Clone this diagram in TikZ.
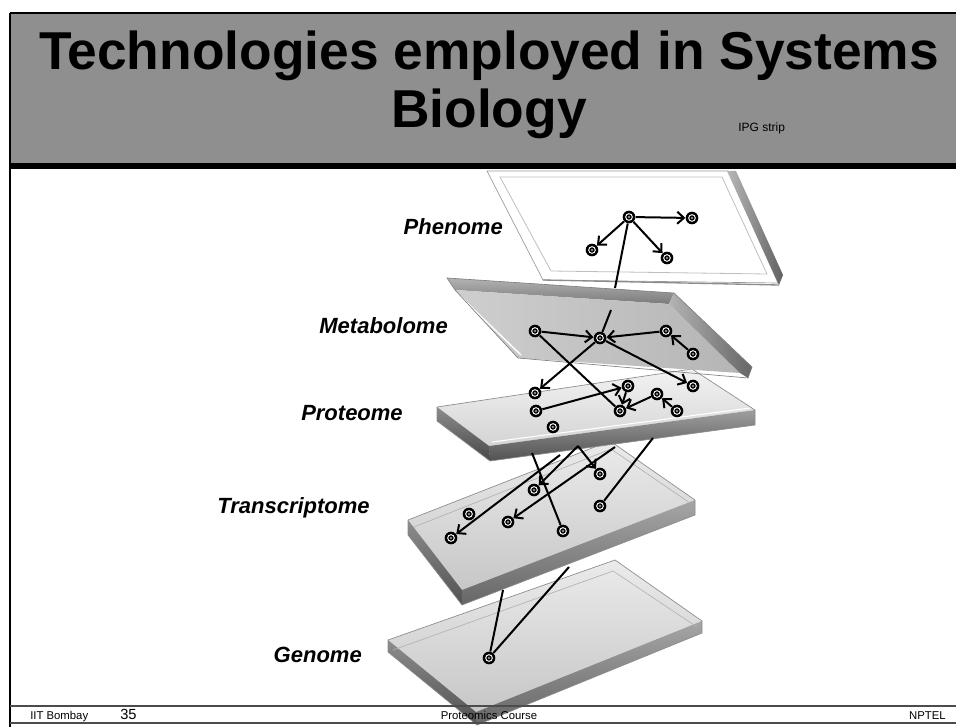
\documentclass[tikz,border=0pt]{standalone}
\usepackage{fontspec}
\setmainfont{Liberation Sans}
\usetikzlibrary{arrows.meta}
\begin{document}
\begin{tikzpicture}[x=0.75pt,y=-0.75pt,
  dot/.style={circle, fill=black, inner sep=0pt, minimum size=9.5pt,
    path picture={\draw[white,line width=0.7pt] (path picture bounding box.center) circle[radius=2.5pt];
                  \fill[black!45] (path picture bounding box.center) circle[radius=1.1pt];}},
  conn/.style={line width=1.5pt, black},
  arr/.style={conn, -{Straight Barb[length=5pt,width=9pt]}},
  lbl/.style={font=\fontsize{16.5}{19}\selectfont\bfseries\itshape, inner sep=0pt},
  titletxt/.style={font=\fontsize{40}{44}\selectfont\bfseries, inner sep=0pt},
  foot/.style={font=\fontsize{8.5}{10}\selectfont, inner sep=0pt},
  edgeline/.style={draw=black!45, line width=0.5pt}
]
\useasboundingbox (0,0) rectangle (956,727);
\fill[white] (0,0) rectangle (956,727);

% ---------- header ----------
\fill[black!44] (10,13) rectangle (956,167);
\draw[line width=1.5pt] (10,13.5) -- (956,13.5);
\fill[black] (10,163) rectangle (956,169);
\draw[line width=2pt] (10,13) -- (10,727);

\node[titletxt, anchor=base] (t1) at (489,70) {Technologies employed in Systems};
\node[titletxt, anchor=base] (t2) at (489,128) {Biology};
\node[font=\fontsize{9}{10}\selectfont, anchor=base west, inner sep=0pt] (ipg) at (738,132) {IPG strip};

% ---------- genome slab ----------
\shade[top color=black!8, bottom color=black!22] (388,640)--(615,560)--(702,621)--(476,712)--cycle;
\shade[top color=black!45, bottom color=black!68] (388,640)--(476,712)--(477,725)--(388,652)--cycle;
\shade[top color=black!35, bottom color=black!60] (476,712)--(702,621)--(702,633)--(477,725)--cycle;
\draw[edgeline] (388,640)--(615,560)--(702,621)--(702,633)--(477,725)--(388,652)--cycle;
\draw[black!30, line width=0.5pt] (393,650)--(613,571)--(697,627);

% ---------- transcriptome slab ----------
\shade[top color=black!8, bottom color=black!22] (408,520)--(610,441)--(695,500)--(462,590)--cycle;
\shade[top color=black!45, bottom color=black!68] (408,520)--(462,590)--(462,605)--(408,535)--cycle;
\shade[top color=black!35, bottom color=black!60] (462,590)--(695,500)--(695,515)--(462,605)--cycle;
\draw[edgeline] (408,520)--(610,441)--(695,500)--(695,515)--(462,605)--(408,535)--cycle;
\draw[black!30, line width=0.5pt] (414,527)--(611,449)--(690,503);

% ---------- proteome slab ----------
\shade[top color=black!5, bottom color=black!17] (437,407)--(692,369)--(755,410)--(489,446)--cycle;
\shade[top color=black!45, bottom color=black!72] (437,407)--(489,446)--(490,461)--(437,421)--cycle;
\shade[top color=black!38, bottom color=black!68] (489,446)--(755,410)--(755,425)--(490,461)--cycle;
\draw[edgeline] (437,407)--(692,369)--(755,410)--(755,425)--(490,461)--(437,421)--cycle;
\draw[white, line width=0.8pt] (492,442)--(750,408);

% ---------- phenome slab ----------
\fill[white] (487,171)--(728,171)--(778,283)--(543,280)--cycle;
\draw[black!40, line width=0.5pt] (487,171)--(728,171)--(778,283)--(543,280)--cycle;
\draw[black!25, line width=0.6pt] (500,177)--(722,177)--(767,274)--(551,271)--cycle;
\shade[left color=black!28, right color=black!62] (727,171)--(736,171)--(783,275)--(779,285)--cycle;
\draw[black!45, line width=1pt] (543,280)--(779,285);

% ---------- metabolome slab ----------
\shade[top color=black!30, bottom color=black!52] (447,278)--(674,293)--(669,304)--(455,290)--cycle;
\shade[left color=black!19, right color=black!29] (455,290)--(669,304)--(740,373)--(518,358)--cycle;
\draw[white, line width=1pt] (458,294)--(521,355);
\shade[left color=black!30, right color=black!60] (674,293)--(752,367)--(748,378)--(740,373)--(669,304)--cycle;
\draw[black!50, line width=0.5pt] (447,278)--(674,293)--(752,367)--(748,378)--(518,358)--(455,290)--cycle;

% ---------- labels ----------
\node[lbl, anchor=base east] (lph) at (503,235) {Phenome};
\node[lbl, anchor=base east] (lme) at (448,333) {Metabolome};
\node[lbl, anchor=base east] (lpr) at (403,420) {Proteome};
\node[lbl, anchor=base east] (ltr) at (370,513) {Transcriptome};
\node[lbl, anchor=base east] (lge) at (362,662) {Genome};

% ---------- dots ----------
\node[dot] (P0) at (629,217) {};
\node[dot] (P1) at (692,218) {};
\node[dot] (P2) at (592,250) {};
\node[dot] (P3) at (667,258) {};
\node[dot] (M0) at (600,338) {};
\node[dot] (M1) at (535,331) {};
\node[dot] (M2) at (666,331) {};
\node[dot] (M3) at (693,354) {};
\node[dot] (R1) at (535,393) {};
\node[dot] (R2) at (536,411) {};
\node[dot] (R3) at (553,427) {};
\node[dot] (R4) at (628,386) {};
\node[dot] (R5) at (620,411) {};
\node[dot] (R6) at (657,394) {};
\node[dot] (R7) at (677,411) {};
\node[dot] (R8) at (693,386) {};
\node[dot] (T1) at (534,490) {};
\node[dot] (T2) at (600,474) {};
\node[dot] (T3) at (600,506) {};
\node[dot] (T4) at (469,514) {};
\node[dot] (T5) at (508,522) {};
\node[dot] (T6) at (563,531) {};
\node[dot] (T7) at (451,538) {};
\node[dot] (G1) at (489,658) {};

\coordinate (pa) at (615,288);
\coordinate (pb) at (611,310);
\coordinate (q1) at (532,453);
\coordinate (q2) at (578,446);
\coordinate (q3) at (560,455);
\coordinate (q4) at (615,447);
\coordinate (q5) at (653,438);
\coordinate (r1) at (503,590);
\coordinate (r2) at (569,567);

% ---------- connectors ----------
\draw[arr] (P0) -- (P1);
\draw[arr] (P0) -- (P2);
\draw[arr] (P0) -- (P3);
\draw[conn] (P0) -- (pa);
\draw[conn] (pb) -- (M0);
\draw[arr] (M1) -- (M0);
\draw[arr] (M2) -- (M0);
\draw[arr] (M3) -- (M2);
\draw[arr] (M0) -- (R1);
\draw[arr] (M0) -- (R8);
\draw[conn] (M1) -- (R5);
\draw[arr] (R2) -- (R4);
\draw[arr] (R4) -- (R5);
\draw[arr] (R6) -- (R5);
\draw[arr] (R7) -- (R6);
\draw[conn] (q1) -- (T6);
\draw[arr] (q2) -- (T1);
\draw[arr] (q2) -- (T2);
\draw[arr] (q3) -- (T7);
\draw[arr] (q4) -- (T5);
\draw[conn] (q5) -- (T3);
\draw[conn] (r1) -- (G1);
\draw[conn] (r2) -- (G1);

% ---------- footer ----------
\draw[black!70, line width=0.8pt] (10,706) -- (956,706);
\draw[black!70, line width=0.8pt] (10,723) -- (956,723);
\node[foot, anchor=base west] (f1) at (30,719) {IIT Bombay};
\node[font=\fontsize{11}{12}\selectfont, inner sep=0pt, anchor=base west] (f2) at (120,719) {35};
\node[foot, anchor=base] (f3) at (489,719) {Proteomics Course};
\node[foot, anchor=base east] (f4) at (946,719) {NPTEL};
\end{tikzpicture}
\end{document}
